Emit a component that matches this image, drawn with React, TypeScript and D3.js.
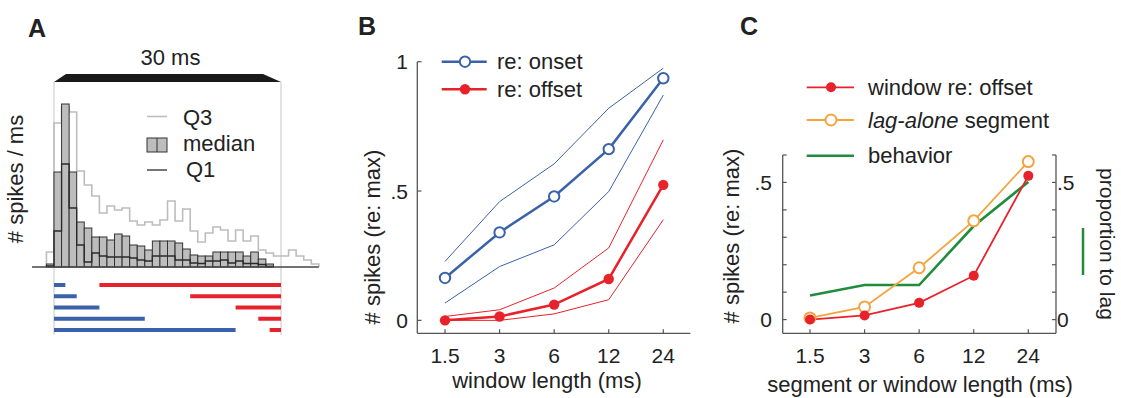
import React from 'react';
import * as d3 from 'd3';

// ---- panel A: PSTH quartiles (1 ms bins, first bin starts at -1 ms) ----
const histStart = -1;
const medianHist = [3, 95, 163, 95, 45, 39, 30, 30, 27, 33, 31, 22, 21, 17, 26, 26, 26, 24, 18, 12, 11, 11, 15, 15, 15, 15, 11, 15, 8, 3];
const q1Hist = [1, 36, 103, 59, 22, 5, 14, 11, 10, 10, 10, 9, 7, 6, 11, 11, 11, 7, 7, 4, 3.5, 6, 6, 7, 4, 6, 3.5, 3.5, 2.5, 0.5];
const q3Hist = [15, 144, 160, 155, 96, 82, 71, 54, 61, 57, 59, 46, 42, 45, 42, 47, 66, 46, 58, 36, 25, 34, 40, 37, 26, 37, 26, 31, 17, 14, 11, 11, 17, 11, 7, 3];
const stimLength = 30;

// ---- panels B & C ----
const windows = [1.5, 3, 6, 12, 24];
const windowLabels = ['1.5', '3', '6', '12', '24'];
const onsetMedian = [0.164, 0.34, 0.479, 0.662, 0.936];
const onsetUpper = [0.228, 0.459, 0.605, 0.82, 0.975];
const onsetLower = [0.067, 0.208, 0.292, 0.498, 0.871];
const offsetMedian = [0.0, 0.015, 0.061, 0.16, 0.524];
const offsetUpper = [0.015, 0.041, 0.125, 0.28, 0.698];
const offsetLower = [0.0, 0.0, 0.025, 0.08, 0.389];
const lagAlone = [0.006, 0.046, 0.189, 0.36, 0.576];
const behavior = [0.088, 0.126, 0.126, 0.341, 0.502];

const yTicksB = [0, 0.5, 1];
const yLabelsB = ['0', '.5', '1'];
const yTicksC = [0, 0.1, 0.2, 0.3, 0.4, 0.5, 0.6];
const yLabelsC = ['0', '', '', '', '', '.5', ''];

const BLUE = '#3a62aa';
const RED = '#e8222b';
const ORANGE = '#f4a43c';
const GREEN = '#1f8d3c';
const AXIS = '#555';
const TEXT = '#222';
const FONT = '"Liberation Sans", Arial, sans-serif';

const W = 1121;
const H = 398;

const App: React.FC = () => {
  // panel A scales
  const xA = d3.scaleLinear().domain([0, 30]).range([54, 281]);
  const yA = d3.scaleLinear().domain([0, 170]).range([267, 97]);
  const rowY = d3.scalePoint<number>().domain([0, 1, 2, 3, 4]).range([285, 330]);

  const stepPath = (vals: number[]) => {
    const pts: [number, number][] = [[histStart, 0]];
    vals.forEach((v, i) => pts.push([histStart + i, v]));
    pts.push([histStart + vals.length, 0]);
    return d3.line<[number, number]>()
      .x(d => xA(d[0]))
      .y(d => yA(d[1]))
      .curve(d3.curveStepAfter)(pts) || '';
  };

  // panel B scales
  const xB = d3.scaleLog().base(2).domain([1.5, 24]).range([445, 663.3]);
  const yB = d3.scaleLinear().domain([-0.05, 1]).range([333.3, 61.7]);
  const lineB = (vals: number[]) =>
    d3.line<number>().x((_, i) => xB(windows[i])).y(d => yB(d))(vals) || '';

  // panel C scales
  const xC = d3.scaleLog().base(2).domain([1.5, 24]).range([810, 1028.3]);
  const yC = d3.scaleLinear().domain([-0.05, 0.6]).range([333.3, 155]);
  const lineC = (vals: number[]) =>
    d3.line<number>().x((_, i) => xC(windows[i])).y(d => yC(d))(vals) || '';

  const txt = { fontFamily: FONT, fill: TEXT } as const;

  return (
    <svg width={W} height={H} style={{ position: 'absolute', left: 0, top: 0, background: '#fff' }}>
      <rect width={W} height={H} fill="#fff" />

      {/* ================= A ================= */}
      <text x={28} y={37} fontSize={25} fontWeight="bold" {...txt}>A</text>
      <text x={(xA(0) + xA(stimLength)) / 2 + 3} y={65} fontSize={22} textAnchor="middle" {...txt}>30 ms</text>
      <polygon
        points={[[xA(0), 82], [xA(0) + 12, 74], [xA(stimLength) - 18, 74], [xA(stimLength), 82]].map(p => p.join(',')).join(' ')}
        fill="#1a1a1a"
      />
      {[0, stimLength].map(t => (
        <line key={t} x1={xA(t)} x2={xA(t)} y1={82} y2={335} stroke="#cfcfcf" strokeWidth={1.2} />
      ))}

      <path d={stepPath(q3Hist)} fill="none" stroke="#bdbdbd" strokeWidth={1.6} />
      {medianHist.map((v, i) => (
        <rect
          key={i}
          x={xA(histStart + i)}
          y={yA(v)}
          width={xA(histStart + i + 1) - xA(histStart + i)}
          height={yA(0) - yA(v)}
          fill="#bdbdbd"
          stroke="#333"
          strokeWidth={1}
        />
      ))}
      <path d={stepPath(q1Hist)} fill="none" stroke="#2a2a2a" strokeWidth={1.3} />
      <line x1={xA(-2.9)} x2={xA(35)} y1={yA(0)} y2={yA(0)} stroke="#444" strokeWidth={1.5} />

      {/* A legend */}
      <line x1={147} x2={167} y1={116.5} y2={116.5} stroke="#bdbdbd" strokeWidth={1.6} />
      <text x={183} y={125} fontSize={22} {...txt}>Q3</text>
      <rect x={147} y={138} width={20} height={14} fill="#bdbdbd" stroke="#333" strokeWidth={1} />
      <line x1={157} x2={157} y1={138} y2={152} stroke="#333" strokeWidth={1} />
      <text x={183} y={151} fontSize={22} {...txt}>median</text>
      <line x1={147} x2={167} y1={170} y2={170} stroke="#2a2a2a" strokeWidth={1.3} />
      <text x={186} y={177} fontSize={22} {...txt}>Q1</text>

      <text transform="translate(23,179) rotate(-90)" fontSize={22} textAnchor="middle" {...txt}># spikes / ms</text>

      {/* windows re: onset (blue) and re: offset (red) */}
      {windows.map((w, i) => (
        <g key={i}>
          <line x1={xA(0)} x2={xA(w)} y1={rowY(i)} y2={rowY(i)} stroke={BLUE} strokeWidth={4} />
          <line x1={xA(stimLength - windows[windows.length - 1 - i])} x2={xA(stimLength)} y1={rowY(i)} y2={rowY(i)} stroke={RED} strokeWidth={4} />
        </g>
      ))}

      {/* ================= B ================= */}
      <text x={358} y={35} fontSize={25} fontWeight="bold" {...txt}>B</text>
      <line x1={xB.range()[0] - 27.7} x2={xB.range()[0] - 27.7} y1={yB(1)} y2={yB(-0.05)} stroke={AXIS} strokeWidth={1.3} />
      <line x1={xB.range()[0] - 27.7} x2={xB.range()[1] + 27} y1={yB(-0.05)} y2={yB(-0.05)} stroke={AXIS} strokeWidth={1.3} />
      {yTicksB.map((t, i) => (
        <g key={t}>
          <line x1={417.3} x2={421.5} y1={yB(t)} y2={yB(t)} stroke={AXIS} strokeWidth={1.2} />
          <text x={408} y={yB(t)} dy="0.36em" fontSize={21} textAnchor="end" {...txt}>{yLabelsB[i]}</text>
        </g>
      ))}
      {windows.map((w, i) => (
        <g key={w}>
          <line x1={xB(w)} x2={xB(w)} y1={yB(-0.05)} y2={yB(-0.05) - 4} stroke={AXIS} strokeWidth={1.2} />
          <text x={xB(w)} y={363} fontSize={21} textAnchor="middle" {...txt}>{windowLabels[i]}</text>
        </g>
      ))}
      <text x={547} y={388} fontSize={22} textAnchor="middle" {...txt}>window length (ms)</text>
      <text transform="translate(380,237) rotate(-90)" fontSize={22} textAnchor="middle" {...txt}># spikes (re: max)</text>

      <path d={lineB(onsetUpper)} fill="none" stroke={BLUE} strokeWidth={1} />
      <path d={lineB(onsetLower)} fill="none" stroke={BLUE} strokeWidth={1} />
      <path d={lineB(offsetUpper)} fill="none" stroke={RED} strokeWidth={1} />
      <path d={lineB(offsetLower)} fill="none" stroke={RED} strokeWidth={1} />
      <path d={lineB(onsetMedian)} fill="none" stroke={BLUE} strokeWidth={2.5} />
      <path d={lineB(offsetMedian)} fill="none" stroke={RED} strokeWidth={2.5} />
      {onsetMedian.map((v, i) => (
        <circle key={'on' + i} cx={xB(windows[i])} cy={yB(v)} r={5.2} fill="#fff" stroke={BLUE} strokeWidth={2} />
      ))}
      {offsetMedian.map((v, i) => (
        <circle key={'off' + i} cx={xB(windows[i])} cy={yB(v)} r={5.2} fill={RED} />
      ))}

      {/* B legend */}
      <line x1={441.7} x2={486.7} y1={61.7} y2={61.7} stroke={BLUE} strokeWidth={2.5} />
      <circle cx={465} cy={61.7} r={5.2} fill="#fff" stroke={BLUE} strokeWidth={2} />
      <text x={497} y={69} fontSize={22} {...txt}>re: onset</text>
      <line x1={441.7} x2={486.7} y1={89.3} y2={89.3} stroke={RED} strokeWidth={2.5} />
      <circle cx={465} cy={89.3} r={5.2} fill={RED} />
      <text x={497} y={97} fontSize={22} {...txt}>re: offset</text>

      {/* ================= C ================= */}
      <text x={740} y={35} fontSize={25} fontWeight="bold" {...txt}>C</text>
      <line x1={782.7} x2={782.7} y1={yC(0.6)} y2={yC(-0.05)} stroke={AXIS} strokeWidth={1.3} />
      <line x1={1056} x2={1056} y1={yC(0.6)} y2={yC(-0.05)} stroke={AXIS} strokeWidth={1.3} />
      <line x1={782.7} x2={1056} y1={yC(-0.05)} y2={yC(-0.05)} stroke={AXIS} strokeWidth={1.3} />
      {yTicksC.map((t, i) => (
        <g key={t}>
          <line x1={782.7} x2={786.7} y1={yC(t)} y2={yC(t)} stroke={AXIS} strokeWidth={1.2} />
          <line x1={1052} x2={1056} y1={yC(t)} y2={yC(t)} stroke={AXIS} strokeWidth={1.2} />
          {yLabelsC[i] && (
            <>
              <text x={772} y={yC(t)} dy="0.36em" fontSize={21} textAnchor="end" {...txt}>{yLabelsC[i]}</text>
              <text x={1057} y={yC(t)} dy="0.36em" fontSize={21} {...txt}>{yLabelsC[i]}</text>
            </>
          )}
        </g>
      ))}
      {windows.map((w, i) => (
        <g key={w}>
          <line x1={xC(w)} x2={xC(w)} y1={yC(-0.05)} y2={yC(-0.05) - 4} stroke={AXIS} strokeWidth={1.2} />
          <text x={xC(w)} y={363} fontSize={21} textAnchor="middle" {...txt}>{windowLabels[i]}</text>
        </g>
      ))}
      <text x={920} y={392} fontSize={22} textAnchor="middle" {...txt}>segment or window length (ms)</text>
      <text transform="translate(739,236) rotate(-90)" fontSize={22} textAnchor="middle" {...txt}># spikes (re: max)</text>
      <text transform="translate(1100,244) rotate(90)" fontSize={21} textAnchor="middle" {...txt}>proportion to lag</text>
      <line x1={1083} x2={1083} y1={228} y2={275} stroke={GREEN} strokeWidth={2.5} />

      <path d={lineC(behavior)} fill="none" stroke={GREEN} strokeWidth={2.6} />
      <path d={lineC(lagAlone)} fill="none" stroke={ORANGE} strokeWidth={1.8} />
      <path d={lineC(offsetMedian)} fill="none" stroke={RED} strokeWidth={1.8} />
      {lagAlone.map((v, i) => (
        <circle key={'lag' + i} cx={xC(windows[i])} cy={yC(v)} r={5.5} fill="#fff" stroke={ORANGE} strokeWidth={2} />
      ))}
      {offsetMedian.map((v, i) => (
        <circle key={'coff' + i} cx={xC(windows[i])} cy={yC(v)} r={5} fill={RED} />
      ))}

      {/* C legend */}
      <line x1={806.7} x2={854} y1={87.3} y2={87.3} stroke={RED} strokeWidth={1.8} />
      <circle cx={831} cy={87.3} r={5} fill={RED} />
      <text x={868} y={95} fontSize={22} {...txt}>window re: offset</text>
      <line x1={806.7} x2={854} y1={120} y2={120} stroke={ORANGE} strokeWidth={1.8} />
      <circle cx={831} cy={120} r={5.5} fill="#fff" stroke={ORANGE} strokeWidth={2} />
      <text x={868} y={128} fontSize={22} {...txt}>
        <tspan fontStyle="italic">lag-alone</tspan> segment
      </text>
      <line x1={806.7} x2={854} y1={155.7} y2={155.7} stroke={GREEN} strokeWidth={2.6} />
      <text x={868} y={163} fontSize={22} {...txt}>behavior</text>
    </svg>
  );
};

export default App;
